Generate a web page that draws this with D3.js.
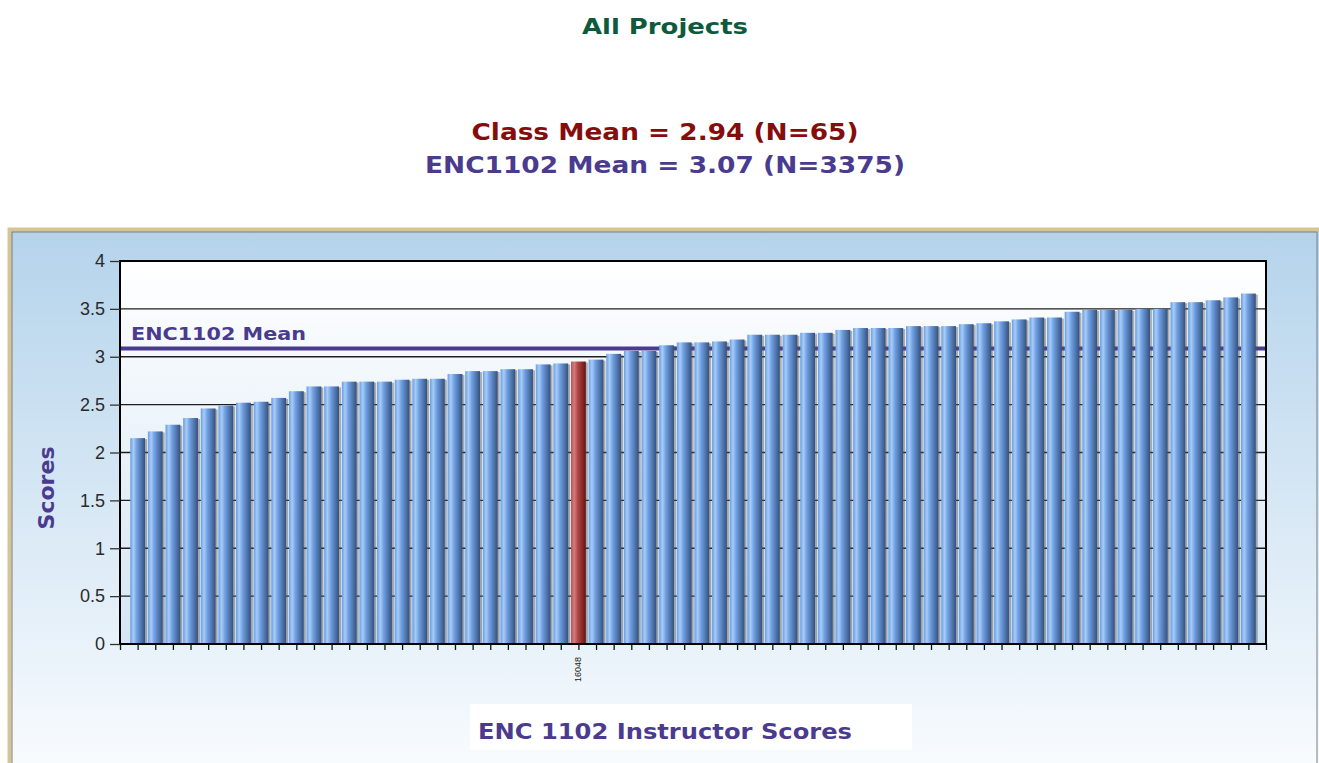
<!DOCTYPE html>
<html>
<head>
<meta charset="utf-8">
<style>
body { margin: 0; background: #ffffff; }
svg { display: block; }
</style>
</head>
<body>
<div id="my_chart"></div>
<script src="https://d3js.org/d3.v7.min.js"></script>
<script>
// instructor scores, sorted ascending
var scores = [2.15, 2.22, 2.29, 2.36, 2.46, 2.49, 2.52, 2.53, 2.57, 2.64,
              2.69, 2.69, 2.74, 2.74, 2.74, 2.76, 2.77, 2.77, 2.82, 2.85,
              2.85, 2.87, 2.87, 2.92, 2.93, 2.95, 2.97, 3.03, 3.06, 3.06,
              3.12, 3.15, 3.15, 3.16, 3.18, 3.23, 3.23, 3.23, 3.25, 3.25,
              3.28, 3.30, 3.30, 3.30, 3.32, 3.32, 3.32, 3.34, 3.35, 3.37,
              3.39, 3.41, 3.41, 3.47, 3.49, 3.49, 3.49, 3.50, 3.50, 3.57,
              3.57, 3.59, 3.62, 3.66]
// only the highlighted instructor gets a category label
var categories = scores.map(function(d, i) { return i == 25 ? "16048" : "" })
var highlight = "16048"
var yTicks = [0, 0.5, 1, 1.5, 2, 2.5, 3, 3.5, 4]
var courseMean = 3.07
var courseMeanLabel = "ENC1102 Mean"
var pageTitle = "All Projects"
var subTitles = ["Class Mean = 2.94 (N=65)", "ENC1102 Mean = 3.07 (N=3375)"]
var yTitle = "Scores"
var xTitle = "ENC 1102 Instructor Scores"

var width = 1319, height = 763
var plot = {left: 120, right: 1266, top: 261, bottom: 644}
var purple = "#4a3b8f"
var titleFont = "'DejaVu Sans', Verdana, sans-serif"

var svg = d3.select("#my_chart").append("svg")
    .attr("width", width)
    .attr("height", height)

var defs = svg.append("defs")

function vGrad(id, c1, c2) {
  var g = defs.append("linearGradient").attr("id", id)
    .attr("x1", 0).attr("y1", 0).attr("x2", 0).attr("y2", 1)
  g.append("stop").attr("offset", "0%").attr("stop-color", c1)
  g.append("stop").attr("offset", "100%").attr("stop-color", c2)
}
function hGrad(id, stops) {
  var g = defs.append("linearGradient").attr("id", id)
    .attr("x1", 0).attr("y1", 0).attr("x2", 1).attr("y2", 0)
  stops.forEach(function(s) {
    g.append("stop").attr("offset", s[0]).attr("stop-color", s[1])
  })
}
vGrad("panelBg", "#b4d3eb", "#fbfdff")
vGrad("plotBg", "#ffffff", "#d4e5f4")
hGrad("barBlue", [["0%", "#6c9de0"], ["22%", "#a6ccf8"], ["45%", "#6f9fe2"], ["85%", "#45679a"], ["100%", "#34507c"]])
hGrad("barRed", [["0%", "#b65454"], ["22%", "#d47c7c"], ["45%", "#b04848"], ["85%", "#7e2222"], ["100%", "#5e1414"]])

// titles (textLength pulls the DejaVu text to the Verdana widths of the original)
svg.append("text")
  .attr("x", 665).attr("y", 34)
  .attr("text-anchor", "middle")
  .attr("textLength", 166).attr("lengthAdjust", "spacingAndGlyphs")
  .style("font-family", titleFont).style("font-weight", "bold")
  .style("font-size", "22px").style("fill", "#0d5a3c")
  .text(pageTitle)

svg.selectAll(".sub")
  .data(subTitles)
  .enter()
  .append("text")
    .attr("x", 665)
    .attr("y", function(d, i) { return 140 + i * 33 })
    .attr("text-anchor", "middle")
    .attr("textLength", function(d, i) { return i == 0 ? 387 : 480 })
    .attr("lengthAdjust", "spacingAndGlyphs")
    .style("font-family", titleFont).style("font-weight", "bold")
    .style("font-size", "23px")
    .style("fill", function(d, i) { return i == 0 ? "#850d0d" : purple })
    .text(function(d) { return d })

// chart panel
svg.append("rect")
  .attr("x", 9.5).attr("y", 229.5).attr("width", 1320).attr("height", 560)
  .attr("fill", "url(#panelBg)")
  .attr("stroke", "#d6c594").attr("stroke-width", 4)
svg.append("rect")
  .attr("x", 12).attr("y", 232).attr("width", 1305).attr("height", 560)
  .attr("fill", "none")
  .attr("stroke", "#7c7c7c").attr("stroke-width", 1)

// plot background
svg.append("rect")
  .attr("x", plot.left).attr("y", plot.top)
  .attr("width", plot.right - plot.left).attr("height", plot.bottom - plot.top)
  .attr("fill", "url(#plotBg)")

var x = d3.scaleLinear()
  .domain([0, scores.length + 1])
  .range([plot.left, plot.right])
var y = d3.scaleLinear()
  .domain([0, 4])
  .range([plot.bottom, plot.top])
var step = x(1) - x(0)
var barW = step * 0.84

// gridlines
svg.selectAll(".grid")
  .data(yTicks)
  .enter()
  .append("line")
    .attr("x1", plot.left).attr("x2", plot.right)
    .attr("y1", function(d) { return y(d) }).attr("y2", function(d) { return y(d) })
    .attr("stroke", "#1e1e1e").attr("stroke-width", 1.3)

// course mean line (behind the bars)
svg.append("line")
  .attr("x1", plot.left).attr("x2", plot.right)
  .attr("y1", y(courseMean) - 1.5).attr("y2", y(courseMean) - 1.5)
  .attr("stroke", purple).attr("stroke-width", 4)
svg.append("text")
  .attr("x", 131).attr("y", y(courseMean) - 10)
  .attr("textLength", 175).attr("lengthAdjust", "spacingAndGlyphs")
  .style("font-family", titleFont).style("font-weight", "bold")
  .style("font-size", "18px").style("fill", purple)
  .text(courseMeanLabel)

// bar shadows, then bars
svg.selectAll(".shadow")
  .data(scores)
  .enter()
  .append("rect")
    .attr("x", function(d, i) { return x(i + 1) - barW / 2 + 2 })
    .attr("y", function(d) { return y(d) + 1 })
    .attr("width", barW)
    .attr("height", function(d) { return y(0) - y(d) - 1 })
    .attr("fill", "#555").attr("opacity", 0.45)

svg.selectAll(".bar")
  .data(scores)
  .enter()
  .append("rect")
    .attr("x", function(d, i) { return x(i + 1) - barW / 2 })
    .attr("y", function(d) { return y(d) })
    .attr("width", barW)
    .attr("height", function(d) { return y(0) - y(d) })
    .attr("fill", function(d, i) { return categories[i] == highlight ? "url(#barRed)" : "url(#barBlue)" })

// plot frame
svg.append("rect")
  .attr("x", plot.left).attr("y", plot.top)
  .attr("width", plot.right - plot.left).attr("height", plot.bottom - plot.top)
  .attr("fill", "none").attr("stroke", "#000").attr("stroke-width", 2)

// y axis
var yAxis = svg.append("g")
  .attr("transform", "translate(" + plot.left + ",0)")
  .call(d3.axisLeft(y).tickValues(yTicks).tickSize(10).tickPadding(5)
    .tickFormat(function(d) { return d3.format("")(d) }))
yAxis.select(".domain").remove()
yAxis.selectAll("line").attr("stroke", "#333").attr("stroke-width", 1.3)
yAxis.selectAll("text")
  .style("font-family", "'Liberation Sans', Arial, sans-serif")
  .style("font-size", "18px").style("fill", "#2a2a2a")

// x axis: a tick for every slot, one label only
var xAxis = svg.append("g")
  .attr("transform", "translate(0," + plot.bottom + ")")
  .call(d3.axisBottom(x).tickValues(d3.range(0, scores.length + 2)).tickSize(6)
    .tickFormat(""))
xAxis.select(".domain").remove()
xAxis.selectAll("line").attr("stroke", "#111").attr("stroke-width", 1.3)

svg.selectAll(".catLabel")
  .data(categories.map(function(c, i) { return {c: c, i: i} }).filter(function(d) { return d.c != "" }))
  .enter()
  .append("text")
    .attr("transform", function(d) { return "translate(" + (x(d.i + 1) + 3) + "," + (plot.bottom + 13) + ") rotate(-90)" })
    .attr("text-anchor", "end")
    .style("font-family", "'Liberation Sans', Arial, sans-serif")
    .style("font-size", "9px").style("fill", "#222")
    .text(function(d) { return d.c })

// axis titles
svg.append("text")
  .attr("transform", "translate(54,488) rotate(-90)")
  .attr("text-anchor", "middle")
  .attr("textLength", 83).attr("lengthAdjust", "spacingAndGlyphs")
  .style("font-family", "'DejaVu Sans', Tahoma, sans-serif").style("font-weight", "bold")
  .style("font-size", "21px").style("fill", purple)
  .text(yTitle)

svg.append("rect")
  .attr("x", 470).attr("y", 704).attr("width", 442).attr("height", 46)
  .attr("fill", "#ffffff")
svg.append("text")
  .attr("x", 665).attr("y", 739)
  .attr("text-anchor", "middle")
  .attr("textLength", 374).attr("lengthAdjust", "spacingAndGlyphs")
  .style("font-family", "'DejaVu Sans', Tahoma, sans-serif").style("font-weight", "bold")
  .style("font-size", "22px").style("fill", purple)
  .text(xTitle)
</script>
</body>
</html>
